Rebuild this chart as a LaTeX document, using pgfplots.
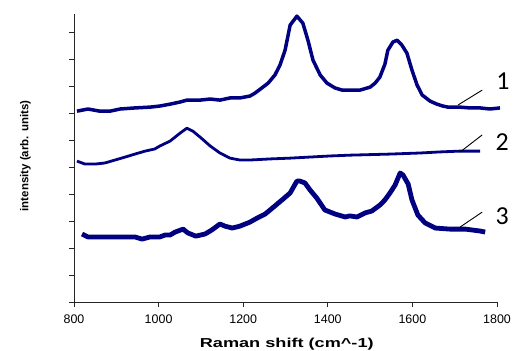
\documentclass[border=0pt]{standalone}
\usepackage{fontspec}
\setmainfont{Liberation Sans}
\newfontfamily\carlito{Carlito}
\usepackage{pgfplots}
\pgfplotsset{compat=1.18}
\definecolor{navy}{RGB}{0,0,128}
\begin{document}
\begin{tikzpicture}
\begin{axis}[
  scale only axis, width=423bp, height=288bp,
  xmin=800, xmax=1800, ymin=0, ymax=10.67,
  axis x line*=bottom, axis y line*=left,
  axis line style={black!85, line width=0.8bp},
  xtick={800,1000,...,1800}, ytick={0,1,...,10}, yticklabels={},
  tick align=outside, major tick length=5bp,
  tick style={black!85, line width=0.8bp},
  /pgf/number format/1000 sep={},
  /pgf/number format/assume math mode=true,
  ticklabel style={font=\fontsize{12.5}{14}\selectfont},
  xticklabel style={yshift=-4bp},
  clip=false,
]
\coordinate (o) at (rel axis cs:0,0);
% curve 1
\addplot[navy, line width=3.5bp, line join=round] coordinates {
(807,7.07)(833,7.15)(861,7.07)(885,7.07)(909,7.15)(944,7.19)(980,7.22)(1003,7.26)
(1027,7.33)(1051,7.41)(1067,7.48)(1098,7.48)(1122,7.52)(1145,7.48)(1169,7.56)(1192,7.56)
(1216,7.63)(1228,7.74)(1244,7.93)(1259,8.11)(1275,8.41)(1287,8.78)(1299,9.33)(1311,10.26)
(1327,10.59)(1341,10.33)(1353,9.70)(1365,8.96)(1382,8.41)(1398,8.11)(1417,7.93)(1434,7.85)
(1452,7.85)(1476,7.85)(1500,7.96)(1512,8.11)(1523,8.33)(1535,8.81)(1542,9.33)(1554,9.63)
(1564,9.70)(1575,9.52)(1587,9.22)(1599,8.59)(1611,8.04)(1623,7.67)(1642,7.44)(1658,7.33)
(1672,7.26)(1684,7.22)(1712,7.22)(1736,7.19)(1760,7.19)(1783,7.15)(1807,7.19)
};
% curve 2
\addplot[navy, line width=2.8bp, line join=round] coordinates {
(807,5.22)(826,5.11)(850,5.11)(873,5.15)(897,5.26)(921,5.37)(944,5.48)(968,5.59)
(991,5.67)(1003,5.78)(1027,5.96)(1051,6.26)(1067,6.44)(1081,6.33)(1098,6.11)(1122,5.78)
(1145,5.52)(1169,5.33)(1192,5.26)(1216,5.26)(1263,5.30)(1311,5.33)(1358,5.37)(1405,5.41)
(1452,5.44)(1547,5.48)(1618,5.52)(1665,5.56)(1712,5.59)(1760,5.59)
};
% curve 3
\addplot[navy, line width=4.8bp, line join=round] coordinates {
(819,2.52)(833,2.41)(861,2.41)(909,2.41)(944,2.41)(961,2.33)(980,2.41)(1003,2.41)
(1015,2.48)(1027,2.48)(1039,2.59)(1058,2.70)(1069,2.56)(1088,2.44)(1110,2.52)(1126,2.67)
(1145,2.89)(1157,2.81)(1174,2.74)(1192,2.81)(1216,2.96)(1233,3.11)(1252,3.26)(1275,3.56)
(1294,3.81)(1311,4.04)(1327,4.48)(1334,4.48)(1346,4.41)(1358,4.15)(1374,3.85)(1393,3.41)
(1417,3.26)(1441,3.15)(1452,3.19)(1469,3.15)(1488,3.30)(1504,3.37)(1523,3.59)(1535,3.78)
(1547,4.04)(1559,4.33)(1571,4.78)(1578,4.70)(1590,4.37)(1599,3.78)(1613,3.22)(1630,2.93)
(1654,2.74)(1689,2.70)(1725,2.70)(1760,2.63)(1772,2.59)
};
% annotations
\draw[black, line width=0.9bp] (axis cs:1708,7.30) -- (axis cs:1765,7.85);
\draw[black, line width=0.9bp] (axis cs:1713,5.56) -- (axis cs:1765,6.19);
\draw[black, line width=0.9bp] (axis cs:1713,2.78) -- (axis cs:1765,3.33);
\node[font=\carlito\fontsize{26}{26}\selectfont, inner sep=0pt] at (axis cs:1814,8.19) {1};
\node[font=\carlito\fontsize{26}{26}\selectfont, inner sep=0pt] at (axis cs:1812,5.93) {2};
\node[font=\carlito\fontsize{26}{26}\selectfont, inner sep=0pt] at (axis cs:1812,3.19) {3};
\node[font=\bfseries\fontsize{13}{13}\selectfont, inner sep=0pt] at (axis cs:1303,-1.55) {\scalebox{1.4}[1]{Raman shift (cm\^{}-1)}};
\node[font=\bfseries\fontsize{11.5}{12}\selectfont, inner sep=0pt, rotate=90] at (axis cs:685,5.41) {intensity (arb. units)};
\end{axis}
\pgfresetboundingbox
\path (o) ++(-74bp,-49bp) rectangle ++(517bp,351bp);
\end{tikzpicture}
\end{document}
